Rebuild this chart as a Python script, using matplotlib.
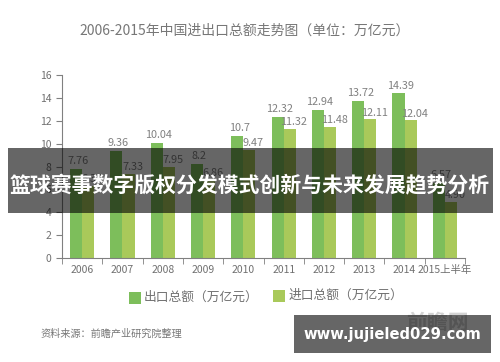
import matplotlib.pyplot as plt
import numpy as np
from matplotlib.patches import Rectangle

plt.rcParams['font.family'] = ['Noto Sans CJK SC', 'DejaVu Sans']

anos = ["2006", "2007", "2008", "2009", "2010", "2011", "2012", "2013", "2014", "2015上半年"]
exportacao = [7.76, 9.36, 10.04, 8.2, 10.7, 12.32, 12.94, 13.72, 14.39, 6.57]
importacao = [6.33, 7.33, 7.95, 6.86, 9.47, 11.32, 11.48, 12.11, 12.04, 4.90]
rotulos_imp = ["6.33", "7.33", "7.95", "6.86", "9.47", "11.32", "11.48", "12.11", "12.04", "4.90"]

cor_exp = '#7dbe5b'
cor_imp = '#a9c95a'
cinza = '#808080'

fig = plt.figure(figsize=(5, 3.62), dpi=100)
ax = fig.add_axes([0.124, 0.287, 0.806, 0.506])

x = np.arange(len(anos))
w = 0.3
ax.bar(x - w / 2, exportacao, w, color=cor_exp)
ax.bar(x + w / 2, importacao, w, color=cor_imp)

for i in range(len(anos)):
    ax.text(x[i] - w / 2 + 0.05, exportacao[i] + 0.25, f"{exportacao[i]:g}",
            ha='center', va='bottom', fontsize=7.8, color=cinza)
    ax.text(x[i] + w / 2 + 0.1, importacao[i] + 0.15, rotulos_imp[i],
            ha='center', va='bottom', fontsize=7.8, color=cinza)

ax.set_xlim(-0.5, len(anos) - 0.5)
ax.set_ylim(0, 16)
ax.set_yticks(range(0, 17, 2))
ax.set_xticks(x)
ax.set_xticklabels(anos)
ax.set_xticks(np.arange(-0.5, len(anos), 1), minor=True)
ax.tick_params(axis='x', which='major', length=0, labelsize=7.5, colors='#707070', pad=5)
ax.tick_params(axis='x', which='minor', length=4, color=cinza)
ax.tick_params(axis='y', length=4, color=cinza, labelsize=7.5, labelcolor='#707070')
for lado in ['top', 'right']:
    ax.spines[lado].set_visible(False)
for lado in ['left', 'bottom']:
    ax.spines[lado].set_color(cinza)

fig.text(0.49, 0.915, "2006-2015年中国进出口总额走势图（单位：万亿元）",
         ha='center', va='center', fontsize=10, color='#777777')

# legenda
fig.patches.append(Rectangle((0.258, 0.16), 0.024, 0.033, transform=fig.transFigure,
                             facecolor=cor_exp, linewidth=0))
fig.text(0.288, 0.178, "出口总额（万亿元）", va='center', fontsize=9.2, color='#707070')
fig.patches.append(Rectangle((0.546, 0.165), 0.024, 0.033, transform=fig.transFigure,
                             facecolor=cor_imp, linewidth=0))
fig.text(0.578, 0.183, "进口总额（万亿元）", va='center', fontsize=9.2, color='#707070')

fig.text(0.08, 0.077, "资料来源：前瞻产业研究院整理", va='center', fontsize=7.3, color='#777777')
fig.text(0.874, 0.108, "前瞻网", ha='center', va='center', fontsize=15, color='#d3d3d3', fontweight='bold')

# faixas escuras
fig.patches.append(Rectangle((0.016, 0.412), 0.97, 0.18, transform=fig.transFigure,
                             facecolor='black', alpha=0.6, linewidth=0, zorder=10))
fig.text(0.5, 0.487, "篮球赛事数字版权分发模式创新与未来发展趋势分析", ha='center', va='center',
         fontsize=15, color='white', fontweight='bold', zorder=11)
fig.patches.append(Rectangle((0.588, 0.025), 0.394, 0.105, transform=fig.transFigure,
                             facecolor='black', alpha=0.6, linewidth=0, zorder=10))
fig.text(0.785, 0.076, "www.jujieled029.com", ha='center', va='center',
         fontsize=10.6, color='white', fontweight='bold', zorder=11, family='DejaVu Sans')

plt.savefig('out.png', dpi=100)
